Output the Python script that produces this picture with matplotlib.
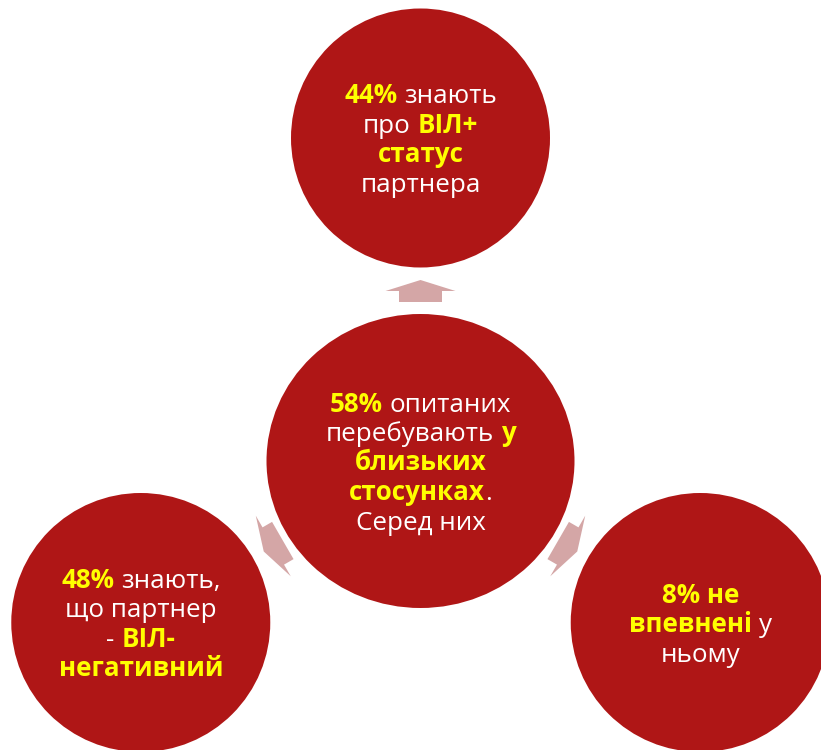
import numpy as np
import matplotlib
matplotlib.use("Agg")
import matplotlib.pyplot as plt
from matplotlib.patches import Ellipse, Polygon

# survey shares, hub first, then the three outer bubbles
hub_share = 58
outer_shares = [44, 48, 8]

# bubble texts; *...* marks the highlighted (bold yellow) parts
hub_lines = [
    "*{}%* опитаних".format(hub_share),
    "перебувають *у*",
    "*близьких*",
    "*стосунках*.",
    "Серед них",
]
outer_lines = [
    ["*{}%* знають".format(outer_shares[0]), "про *ВІЛ+*", "*статус*", "партнера"],
    ["*{}%* знають,".format(outer_shares[1]), "що партнер", "- *ВІЛ-*", "*негативний*"],
    ["*{}% не*".format(outer_shares[2]), "*впевнені* у", "ньому"],
]
outer_angles = [90, 210, 330]

RED = "#AF1616"
ARROW = "#D4A6A6"
YELLOW = "#FFFF00"
WHITE = "#FFFFFF"
FONT = ["Open Sans", "DejaVu Sans"]
FONT_SIZE = 18.7
LINE_STEP = 29.5
CAP = 19

W, H = 821, 750
HUB = (420.5, 461.0)
HUB_W, HUB_H = 308, 294
OUTER_DIST = 323
OUTER_R = 129.5
ARROW_DIST = 170

fig = plt.figure(figsize=(W / 100, H / 100), dpi=100)
ax = fig.add_axes([0, 0, 1, 1])
ax.set_xlim(0, W)
ax.set_ylim(H, 0)
ax.axis("off")
renderer = fig.canvas.get_renderer()


def text_width(s, weight):
    t = ax.text(0, 0, s, fontsize=FONT_SIZE, family=FONT, fontweight=weight)
    w = t.get_window_extent(renderer).width
    t.remove()
    return w


SPACE = text_width("n n", "normal") - text_width("nn", "normal")


def draw_lines(cx, cy, lines):
    n = len(lines)
    for i, line in enumerate(lines):
        y = cy + (i - (n - 1) / 2) * LINE_STEP + CAP / 2
        runs = []
        for k, seg in enumerate(line.split("*")):
            if seg:
                runs.append((seg, k % 2 == 1))
        pieces = []
        for seg, hot in runs:
            weight = "bold" if hot else "normal"
            lead = len(seg) - len(seg.lstrip(" "))
            trail = len(seg) - len(seg.rstrip(" "))
            core = seg.strip(" ")
            t = ax.text(0, y, core, fontsize=FONT_SIZE, family=FONT,
                        fontweight=weight, color=YELLOW if hot else WHITE,
                        ha="left", va="baseline")
            w = t.get_window_extent(renderer).width
            pieces.append((t, lead * SPACE, w, trail * SPACE))
        total = sum(a + b + c for _, a, b, c in pieces)
        x = cx - total / 2
        for t, lead, w, trail in pieces:
            x += lead
            t.set_x(x)
            x += w + trail


def arrow_shape(mid, d):
    """Flat block arrow: wings at `mid`, pointing along unit vector d."""
    d = np.asarray(d, float)
    p = np.array([-d[1], d[0]])
    local = [(11, 0), (0, 35), (0, 21.5), (-11, 21.5),
             (-11, -21.5), (0, -21.5), (0, -35)]
    return [np.asarray(mid) + u * d + v * p for u, v in local]


ax.add_patch(Ellipse(HUB, HUB_W, HUB_H, facecolor=RED, edgecolor="none"))
draw_lines(HUB[0], HUB[1], hub_lines)

for ang, lines in zip(outer_angles, outer_lines):
    d = np.array([np.cos(np.radians(ang)), -np.sin(np.radians(ang))])
    c = np.array(HUB) + OUTER_DIST * d
    ax.add_patch(plt.Circle(c, OUTER_R, facecolor=RED, edgecolor="none"))
    mid = np.array(HUB) + ARROW_DIST * d
    ax.add_patch(Polygon(arrow_shape(mid, d), closed=True,
                         facecolor=ARROW, edgecolor="none"))
    draw_lines(c[0], c[1], lines)

fig.savefig("out.png", dpi=100, facecolor="white")
